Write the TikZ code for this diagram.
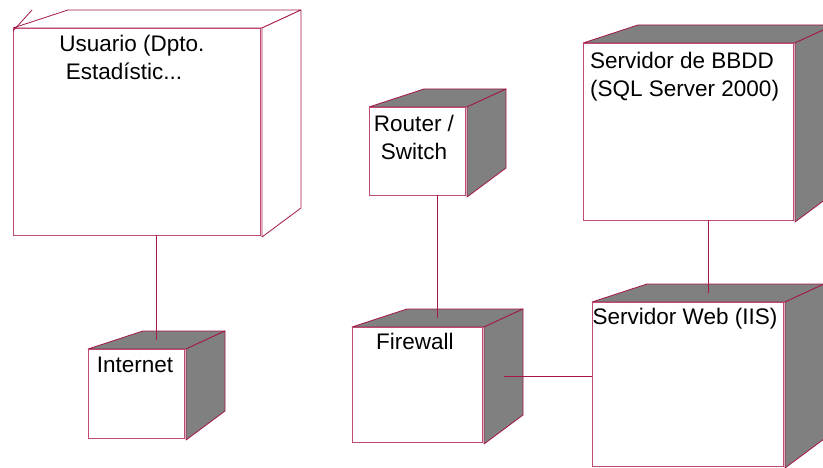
\documentclass[tikz,border=0pt]{standalone}
\usepackage{fontspec}
\setmainfont{Liberation Sans}
\definecolor{edge}{HTML}{A3174B}
\definecolor{edgefront}{HTML}{C04A72}
\definecolor{shade}{HTML}{808080}
\tikzset{
  face/.style={draw=edge, line width=0.8pt, line join=round},
  frontbox/.style={draw=edgefront, fill=white, line width=0.9pt, inner sep=0pt, outer sep=0pt, anchor=north west, rectangle},
  lbl/.style={font=\fontsize{22.5}{28}\selectfont, align=center, anchor=north, inner sep=0pt, text=black},
  link/.style={draw=edge, line width=0.8pt},
}
% #1 name, #2 x1, #3 y1, #4 x2, #5 y2, #6 fill of top and side
\newcommand\depnode[6]{%
  \path[face, fill=#6] (#2,#3) -- (#2+55,#3-18) -- (#4+41,#3-18) -- (#4+2,#3) -- cycle;
  \path[face, fill=#6] (#4+2,#3) -- (#4+41,#3-18) -- (#4+41,#5-27) -- (#4+2,#5+2) -- cycle;
  \node[frontbox, minimum width={(#4-#2)*1pt}, minimum height={(#5-#3)*1pt}] (#1) at (#2,#3) {};
  \coordinate (#1-top) at ({(#2+#4+41)/2},#3-9);
  \coordinate (#1-side) at (#4+21.5,{(#3+#5)/2-8});
}
\begin{document}
\begin{tikzpicture}[x=1pt,y=-1pt]
\useasboundingbox (0,0) rectangle (823,468);
\clip (0,0) rectangle (823,468);
\fill[white] (0,0) rectangle (823,468);

\depnode{usuario}{13}{28}{260}{235}{white}
\depnode{router}{369}{107}{465}{195}{shade}
\depnode{bbdd}{583}{43}{793}{220}{shade}
\depnode{internet}{88}{349}{184}{438}{shade}
\depnode{firewall}{352}{327}{482}{442}{shade}
\depnode{web}{592}{302}{783}{466}{shade}

\node[lbl] (usuario-lbl) at (132,35) {Usuario (Dpto.\\Estadístic...\hspace*{16pt}};
\node[lbl] (router-lbl) at (414,115) {Router /\\Switch};
\node[lbl, align=left, anchor=north west] (bbdd-lbl) at (590,52) {Servidor de BBDD\\(SQL Server 2000)};
\node[lbl] (internet-lbl) at (135,357) {Internet};
\node[lbl] (firewall-lbl) at (415,333) {Firewall};
\node[lbl] (web-lbl) at (685,308) {Servidor Web (IIS)};

\draw[link] ([yshift=-3pt]usuario.north west) -- ++(19,-21);

\draw[link] (usuario.south -| internet-top) -- (internet-top);
\draw[link] (router.south -| firewall-top) -- (firewall-top);
\draw[link] (bbdd.south -| web-top) -- (web-top);
\draw[link] (firewall-side) -- (firewall-side -| web.west);
\end{tikzpicture}
\end{document}
